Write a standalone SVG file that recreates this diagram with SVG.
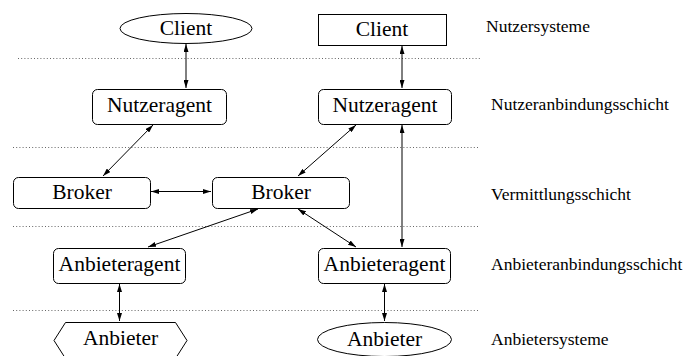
<svg xmlns="http://www.w3.org/2000/svg" width="685" height="356" viewBox="0 0 685 356">
<defs>
<style>
.n{fill:#fff;stroke:#000;stroke-width:1}
.t{font-size:21.5px;text-anchor:middle;fill:#000}
.l{font-size:17.5px;fill:#000}
.d{stroke:#666;stroke-width:1;stroke-dasharray:1 2.2;fill:none}
.c line{stroke:#000;stroke-width:1;marker-start:url(#ah);marker-end:url(#ah)}
</style>
<marker id="ah" viewBox="0 0 8 5" refX="8" refY="2.5" markerWidth="8" markerHeight="5" markerUnits="userSpaceOnUse" orient="auto-start-reverse">
<path d="M0,0 L8,2.5 L0,5 z" fill="#000"/>
</marker>
</defs>
<g font-family="'Liberation Serif', 'Times New Roman', 'DejaVu Serif', serif">
<g id="layers">
<line class="d" x1="18" y1="58.5" x2="482" y2="58.5"/>
<line class="d" x1="13" y1="147.5" x2="480" y2="147.5"/>
<line class="d" x1="13" y1="226.5" x2="480" y2="226.5"/>
<line class="d" x1="13" y1="310.5" x2="480" y2="310.5"/>
<text class="l" x="486" y="32">Nutzersysteme</text>
<text class="l" x="491" y="110">Nutzeranbindungsschicht</text>
<text class="l" x="491" y="200">Vermittlungsschicht</text>
<text class="l" x="491" y="270">Anbieteranbindungsschicht</text>
<text class="l" x="491" y="345">Anbietersysteme</text>
</g>
<g id="client1"><ellipse class="n" cx="186" cy="28.5" rx="66" ry="15"/><text class="t" x="186" y="35">Client</text></g>
<g id="client2"><rect class="n" x="318.5" y="14.5" width="128" height="31"/><text class="t" x="382" y="36">Client</text></g>
<g id="nutzer1"><rect class="n" x="92.5" y="89.5" width="134" height="35" rx="5"/><text class="t" x="159.5" y="112">Nutzeragent</text></g>
<g id="nutzer2"><rect class="n" x="318.5" y="89.5" width="133" height="35" rx="5"/><text class="t" x="385" y="112">Nutzeragent</text></g>
<g id="broker1"><rect class="n" x="13.5" y="177.5" width="137" height="31" rx="5"/><text class="t" x="82" y="199">Broker</text></g>
<g id="broker2"><rect class="n" x="212.5" y="177.5" width="137" height="31" rx="5"/><text class="t" x="281" y="199">Broker</text></g>
<g id="anbag1"><rect class="n" x="53.5" y="248.5" width="132" height="35" rx="5"/><text class="t" x="119.5" y="271">Anbieteragent</text></g>
<g id="anbag2"><rect class="n" x="318.5" y="248.5" width="132" height="35" rx="5"/><text class="t" x="384.5" y="271">Anbieteragent</text></g>
<g id="anbieter1"><polygon class="n" points="54,340.5 65.5,322.5 175.5,322.5 187,340.5 175.5,358.5 65.5,358.5"/><text class="t" x="120.5" y="345">Anbieter</text></g>
<g id="anbieter2"><ellipse class="n" cx="384.5" cy="339.5" rx="67" ry="17"/><text class="t" x="384.5" y="346">Anbieter</text></g>
</g>
<g id="connectors" class="c">
<line x1="186" y1="44" x2="186" y2="88"/>
<line x1="402" y1="46" x2="402" y2="88"/>
<line x1="153" y1="125" x2="103" y2="176"/>
<line x1="356" y1="125" x2="298" y2="176"/>
<line x1="402" y1="125" x2="402" y2="247"/>
<line x1="151" y1="191.5" x2="211" y2="191.5"/>
<line x1="258" y1="209" x2="148" y2="247"/>
<line x1="298" y1="209" x2="356" y2="247"/>
<line x1="119.5" y1="284" x2="119.5" y2="321"/>
<line x1="384.5" y1="284" x2="384.5" y2="321"/>
</g>
</svg>
